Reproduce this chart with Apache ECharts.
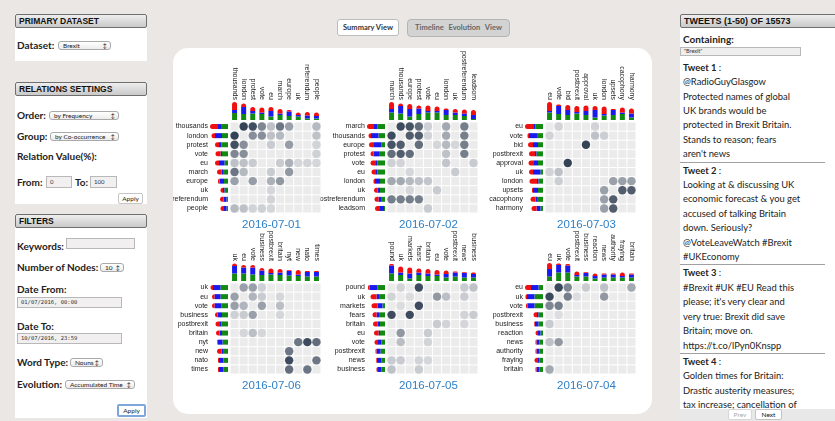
<!DOCTYPE html>
<html><head><meta charset="utf-8">
<script src="https://cdn.jsdelivr.net/npm/echarts@6/dist/echarts.min.js"></script>
<style>
html,body{margin:0;padding:0;}
body{width:835px;height:421px;overflow:hidden;background:#ebe7e5;position:relative;font-family:Lato,'Liberation Sans',sans-serif;color:#222;}
.box{position:absolute;left:15px;width:132px;background:#fff;}
.hdr{position:absolute;box-sizing:border-box;height:14px;border:1px solid #6f6f6f;border-radius:2px;background:linear-gradient(#eeeeee,#c9c9c9);font:bold 8.5px 'Liberation Sans',Arial,sans-serif;line-height:12px;padding-left:3px;color:#111;white-space:nowrap;overflow:hidden;}
.lbl{position:absolute;font-weight:bold;font-size:10px;line-height:12px;white-space:nowrap;color:#222;}
.sel{position:absolute;box-sizing:border-box;border:1px solid #a9a9a9;border-radius:3px;background:linear-gradient(#ffffff,#ececec);font-size:6.5px;line-height:7px;padding-left:4px;white-space:nowrap;color:#222;}
.sel span{position:absolute;right:3px;top:0;font-size:6px;line-height:7px;}
.inp{position:absolute;box-sizing:border-box;border:1px solid #b8b8b8;background:#f1efef;font-size:6px;line-height:9px;padding-left:3px;white-space:nowrap;color:#333;}
.mono{font-family:'DejaVu Sans Mono','Liberation Mono',monospace;font-size:5.5px;}
.btn{position:absolute;box-sizing:border-box;border:1px solid #c4c4c4;border-radius:2px;background:#fff;font-size:6.5px;text-align:center;color:#222;}
#panel{position:absolute;left:173px;top:48px;width:479px;height:366px;background:#fff;border-radius:15px;}
#chart{position:absolute;left:0;top:0;width:479px;height:366px;}
.tw{box-sizing:border-box;padding:1px 0 0 3px;border-bottom:1px solid #a0a0a0;line-height:14.4px;font-size:9.4px;white-space:nowrap;color:#222;}
.tw b{font-weight:bold;}
</style></head>
<body>
<!-- left panel -->
<div class="box" style="top:14px;height:47px"></div>
<div class="hdr" style="left:15px;top:14px;width:132px">PRIMARY DATASET</div>
<div class="lbl" style="left:17px;top:39px">Dataset:</div>
<div class="sel" style="left:58px;top:41px;width:53px;height:9px">Brexit<span>↕</span></div>

<div class="box" style="top:82px;height:122px"></div>
<div class="hdr" style="left:15px;top:82px;width:132px">RELATIONS SETTINGS</div>
<div class="lbl" style="left:17px;top:109px">Order:</div>
<div class="sel" style="left:49px;top:111px;width:70px;height:9px">by Frequency<span>↕</span></div>
<div class="lbl" style="left:17px;top:130px">Group:</div>
<div class="sel" style="left:50px;top:132px;width:69px;height:9px">by Co-occurrence<span>↕</span></div>
<div class="lbl" style="left:17px;top:150px">Relation Value(%):</div>
<div class="lbl" style="left:17px;top:176px">From:</div>
<div class="inp" style="left:46px;top:176px;width:26px;height:12px;line-height:10px">0</div>
<div class="lbl" style="left:75px;top:176px">To:</div>
<div class="inp" style="left:90px;top:176px;width:27px;height:12px;line-height:10px">100</div>
<div class="btn" style="left:118px;top:193px;width:25px;height:11px;line-height:9px">Apply</div>

<div class="box" style="top:214px;height:204px"></div>
<div class="hdr" style="left:15px;top:214px;width:132px">FILTERS</div>
<div class="lbl" style="left:17px;top:240px">Keywords:</div>
<div class="inp" style="left:66px;top:238px;width:69px;height:11px"></div>
<div class="lbl" style="left:17px;top:261px">Number of Nodes:</div>
<div class="sel" style="left:100px;top:263px;width:24px;height:9px">10<span>↕</span></div>
<div class="lbl" style="left:17px;top:283px">Date From:</div>
<div class="inp mono" style="left:17px;top:297px;width:105px;height:11px">01/07/2016, 00:00</div>
<div class="lbl" style="left:17px;top:320px">Date To:</div>
<div class="inp mono" style="left:17px;top:333px;width:105px;height:11px">10/07/2016, 23:59</div>
<div class="lbl" style="left:17px;top:356px">Word Type:</div>
<div class="sel" style="left:70px;top:358px;width:33px;height:9px">Nouns<span>↕</span></div>
<div class="lbl" style="left:17px;top:378px">Evolution:</div>
<div class="sel" style="left:65px;top:380px;width:70px;height:9px">Accumulated Time<span>↕</span></div>
<div class="btn" style="left:117px;top:404px;width:29px;height:13px;line-height:10px;border:2px solid #7ea6dd">Apply</div>

<!-- top buttons -->
<div class="btn" style="left:337px;top:19px;width:62px;height:17px;line-height:15px;font-weight:bold;font-size:7.5px;color:#333;border-radius:3px;border-color:#bdbdbd">Summary View</div>
<div class="btn" style="left:407px;top:19px;width:103px;height:18px;line-height:16px;font-weight:bold;font-size:7.5px;color:#666;background:#d3d3d3;border-color:#b5b5b5;border-radius:4px;word-spacing:3px">Timeline Evolution View</div>

<!-- center panel -->
<div id="panel"><div id="chart"></div></div>

<!-- right panel -->
<div style="position:absolute;left:680px;top:27px;width:155px;height:394px;background:#fff"></div>
<div class="hdr" style="left:680px;top:14px;width:160px;font-size:9px">TWEETS (1-50) OF 15573</div>
<div class="lbl" style="left:683px;top:33px">Containing:</div>
<div class="inp" style="left:680px;top:47px;width:121px;height:9px;font-size:5.5px;line-height:7px;background:#efeeee">"Brexit"</div>
<div style="position:absolute;left:680px;top:59.8px;width:145px;height:349px;overflow:hidden">
  <div class="tw"><b>Tweet 1</b> :<br>@RadioGuyGlasgow<br>Protected names of global<br>UK brands would be<br>protected in Brexit Britain.<br>Stands to reason; fears<br>aren't news</div>
  <div class="tw"><b>Tweet 2</b> :<br>Looking at &amp; discussing UK<br>economic forecast &amp; you get<br>accused of talking Britain<br>down. Seriously?<br>@VoteLeaveWatch #Brexit<br>#UKEconomy</div>
  <div class="tw"><b>Tweet 3</b> :<br>#Brexit #UK #EU Read this<br>please; it's very clear and<br>very true: Brexit did save<br>Britain; move on.<br>https://t.co/lPyn0Knspp</div>
  <div class="tw" style="border:none"><b>Tweet 4</b> :<br>Golden times for Britain:<br>Drastic austerity measures;<br>tax increase; cancellation of</div>
</div>
<div style="position:absolute;left:677px;top:409px;width:158px;height:12px;background:#e8e8e8"></div>
<div class="btn" style="left:728px;top:409px;width:24px;height:11px;line-height:9px;color:#aaa;border-color:#d6d6d6">Prev</div>
<div class="btn" style="left:755px;top:409px;width:27px;height:11px;line-height:9px;color:#111">Next</div>

<script>
// ---------- data ----------
const dates = ['2016-07-01','2016-07-02','2016-07-03','2016-07-06','2016-07-05','2016-07-04'];

const words0701 = ['thousands','london','protest','vote','eu','march','europe','uk','referendum','people'];
const red0701   = [8,3.5,4,5,4,4.5,1.5,2.5,3.5,3.5];
const blue0701  = [3,7,2.5,1.5,5.5,1.5,4.5,1.5,3,2.5];
const green0701 = [7,6,6.5,6,3.5,5,4,3.5,1.5,1.5];
const links0701 = [
  ['thousands','london',0.95],['thousands','protest',0.88],['thousands','vote',0.55],['thousands','eu',0.2],
  ['thousands','march',0.65],['thousands','europe',0.4],['thousands','people',0.25],
  ['london','protest',0.5],['london','vote',0.5],['london','eu',0.2],['london','march',0.25],['london','people',0.2],
  ['protest','eu',0.15],['protest','europe',0.42],['protest','people',0.1],['vote','people',0.12],
  ['eu','march',0.15],['eu','europe',0.3],['eu','uk',0.08],['eu','referendum',0.1],['eu','people',0.08],
  ['march','europe',0.45]
];

const words0702 = ['march','thousands','europe','protest','vote','eu','london','uk','postreferendum','leadsom'];
const red0702   = [7,2.5,5,3,5.5,4.5,1.5,3.5,4,5];
const blue0702  = [3.5,7.5,7.5,5.5,1.5,1.5,5,2.5,2.5,4];
const green0702 = [7.5,6.5,3.5,6,7.5,7.5,5,5,4,1];
const links0702 = [
  ['march','thousands',0.9],['march','europe',0.85],['march','protest',0.7],['march','vote',0.12],
  ['march','london',0.35],['march','postreferendum',0.6],
  ['thousands','europe',0.8],['thousands','protest',0.8],['thousands','vote',0.1],['thousands','london',0.35],
  ['thousands','postreferendum',0.6],
  ['europe','protest',0.7],['europe','eu',0.08],['europe','london',0.25],['europe','uk',0.08],['europe','postreferendum',0.6],
  ['protest','london',0.2],['protest','postreferendum',0.6],
  ['vote','london',0.18],['vote','leadsom',0.15],['eu','uk',0.15]
];

const words0703 = ['eu','vote','bid','postbrexit','approval','uk','london','upsets','cacophony','harmony'];
const red0703   = [9,1.5,5,6,5.5,4,7.5,1,5,5];
const blue0703  = [1.5,8,5,1.5,4,7.5,1.5,5,1.5,4];
const green0703 = [7.5,6,5,6.5,5,2.5,4.5,5,6,2.5];
const links0703 = [
  ['eu','vote',0.1],['eu','uk',0.1],['vote','uk',0.2],['vote','london',0.13],['bid','approval',0.95],
  ['london','upsets',0.4],['london','cacophony',0.4],['london','harmony',0.4],
  ['upsets','cacophony',0.8],['upsets','harmony',0.8]
];

const words0706 = ['uk','eu','vote','business','postbrexit','britain','nyt','new','nato','times'];
const red0706   = [2.5,2.5,2.5,2.5,4.5,3.5,0.7,4.5,1,1];
const blue0706  = [7.5,6,7,4.5,1.5,2.5,4.5,1.5,4.5,4.5];
const green0706 = [7.5,7.5,6.5,6,6.5,6,5.5,5,4.5,4.5];
const links0706 = [
  ['uk','eu',0.4],['uk','vote',0.4],['uk','business',0.12],['eu','vote',0.28],['eu','business',0.15],
  ['eu','britain',0.08],['vote','business',0.4],['vote','britain',0.22],['business','britain',0.08],
  ['nyt','new',0.65],['nyt','nato',0.9],['nyt','times',0.7],['nato','times',0.65]
];

const words0705 = ['pound','uk','markets','fears','britain','eu','vote','postbrexit','news','business'];
const red0705   = [1.5,6,6,4,4.5,4.5,3.5,1,0.7,1.5];
const blue0705  = [8,2.5,5,2.5,2.5,1.5,3.5,4,4.5,3.5];
const green0705 = [7.5,6,2.5,6,5,5,3.5,4.5,3.5,3.5];
const links0705 = [
  ['pound','uk',0.1],['pound','fears',0.9],['pound','news',0.15],['pound','business',0.2],
  ['uk','markets',0.05],['uk','eu',0.45],['uk','vote',0.22],['uk','news',0.15],
  ['markets','fears',0.9],['fears','news',0.1],['fears','business',0.15],
  ['britain','eu',0.15],['britain','vote',0.1],['britain','news',0.08]
];

const words0704 = ['eu','uk','vote','postbrexit','business','reaction','news','authority','fraying','britain'];
const red0704   = [6,1.5,1.5,3.5,0.7,2.5,1,1,3.5,1];
const blue0704  = [7.5,7.5,7,1.5,3.5,2.5,3,3,1.5,3];
const green0704 = [4.5,8.5,8.5,4.5,4.5,2.5,3.5,3.5,3.5,3.5];
const links0704 = [
  ['eu','uk',0.92],['eu','vote',0.55],['eu','business',0.15],['eu','news',0.2],['eu','britain',0.35],
  ['uk','vote',0.6],['uk','news',0.45],['uk','postbrexit',0.04]
];

const panels = [
  {date:dates[0], words:words0701, red:red0701, blue:blue0701, green:green0701, links:links0701},
  {date:dates[1], words:words0702, red:red0702, blue:blue0702, green:green0702, links:links0702},
  {date:dates[2], words:words0703, red:red0703, blue:blue0703, green:green0703, links:links0703},
  {date:dates[3], words:words0706, red:red0706, blue:blue0706, green:green0706, links:links0706},
  {date:dates[4], words:words0705, red:red0705, blue:blue0705, green:green0705, links:links0705},
  {date:dates[5], words:words0704, red:red0704, blue:blue0704, green:green0704, links:links0704}
];

// ---------- layout / styles ----------
const SIZE = 91, CELL = SIZE / 10, BARMAX = 18;
const LEFTS = [57, 214, 372], TOPS = [74, 235];
const RED = '#f01010', BLUE = '#1a1aee', GREEN = '#128a12';
const FONT = 'Liberation Sans';

const grid = [], xAxis = [], yAxis = [], series = [], graphic = [], circleSeries = [];
const hidden = {axisLine:{show:false}, axisTick:{show:false}, splitLine:{show:false}};

panels.forEach((p, i) => {
  const L = LEFTS[i % 3], T = TOPS[Math.floor(i / 3)];
  const g = grid.length;
  grid.push({left:L, top:T, width:SIZE, height:SIZE, outerBoundsMode:'none'});
  grid.push({left:L, top:T - 20, width:SIZE, height:BARMAX, outerBoundsMode:'none'});
  grid.push({left:L - 20, top:T, width:BARMAX, height:SIZE, outerBoundsMode:'none'});

  xAxis.push(Object.assign({gridIndex:g, type:'category', data:p.words, position:'top',
    axisLabel:{rotate:90, margin:22, interval:0, fontSize:7, color:'#222', fontFamily:FONT}}, hidden));
  yAxis.push(Object.assign({gridIndex:g, type:'category', data:p.words, inverse:true,
    axisLabel:{margin:22, interval:0, fontSize:7, color:'#222', fontFamily:FONT}}, hidden));
  xAxis.push({gridIndex:g + 1, type:'category', data:p.words, show:false});
  yAxis.push({gridIndex:g + 1, type:'value', min:0, max:BARMAX, show:false});
  xAxis.push({gridIndex:g + 2, type:'value', min:0, max:BARMAX, inverse:true, show:false});
  yAxis.push({gridIndex:g + 2, type:'category', data:p.words, inverse:true, show:false});

  const cells = [];
  p.words.forEach((_, r) => p.words.forEach((__, c) => cells.push([c, r])));
  series.push({type:'scatter', xAxisIndex:g, yAxisIndex:g, data:cells, symbol:'rect',
    symbolSize:CELL - 1, itemStyle:{color:'#ebebeb', opacity:1}, silent:true, z:1});

  const dots = [];
  p.links.forEach(([a, b, v]) => {
    const ia = p.words.indexOf(a), ib = p.words.indexOf(b);
    dots.push([ib, ia, v]); dots.push([ia, ib, v]);
  });
  circleSeries.push(series.length);
  series.push({type:'scatter', xAxisIndex:g, yAxisIndex:g, data:dots, symbol:'circle',
    symbolSize:8.4, itemStyle:{opacity:1}, silent:true, z:3});

  // column (vertical) stacked bars
  series.push({type:'bar', xAxisIndex:g + 1, yAxisIndex:g + 1, stack:'c' + i, data:p.green, barWidth:5, itemStyle:{color:GREEN}, silent:true});
  series.push({type:'bar', xAxisIndex:g + 1, yAxisIndex:g + 1, stack:'c' + i, data:p.blue, barWidth:5, itemStyle:{color:BLUE}, silent:true});
  series.push({type:'bar', xAxisIndex:g + 1, yAxisIndex:g + 1, stack:'c' + i, data:p.red, barWidth:5, itemStyle:{color:RED, borderRadius:[2.5,2.5,0,0]}, silent:true});
  // row (horizontal) stacked bars, anchored at right
  series.push({type:'bar', xAxisIndex:g + 2, yAxisIndex:g + 2, stack:'r' + i, data:p.green, barWidth:5, itemStyle:{color:GREEN}, silent:true});
  series.push({type:'bar', xAxisIndex:g + 2, yAxisIndex:g + 2, stack:'r' + i, data:p.blue, barWidth:5, itemStyle:{color:BLUE}, silent:true});
  series.push({type:'bar', xAxisIndex:g + 2, yAxisIndex:g + 2, stack:'r' + i, data:p.red, barWidth:5, itemStyle:{color:RED, borderRadius:[2.5,0,0,2.5]}, silent:true});

  graphic.push({type:'text', x:L + SIZE / 2 - 4, y:T + SIZE + 6, silent:true,
    style:{text:p.date, fill:'#2f80c6', font:'11.5px "Liberation Sans"', align:'center', textAlign:'center', verticalAlign:'top', textVerticalAlign:'top'}});
});

const chart = echarts.init(document.getElementById('chart'), null, {renderer:'canvas'});
chart.setOption({
  animation:false,
  backgroundColor:'transparent',
  grid, xAxis, yAxis, series, graphic,
  visualMap:{type:'continuous', show:false, min:0, max:1, dimension:2, seriesIndex:circleSeries,
    inRange:{color:['#e3e4e6','#2c3a4f']}}
});
</script>
</body></html>
